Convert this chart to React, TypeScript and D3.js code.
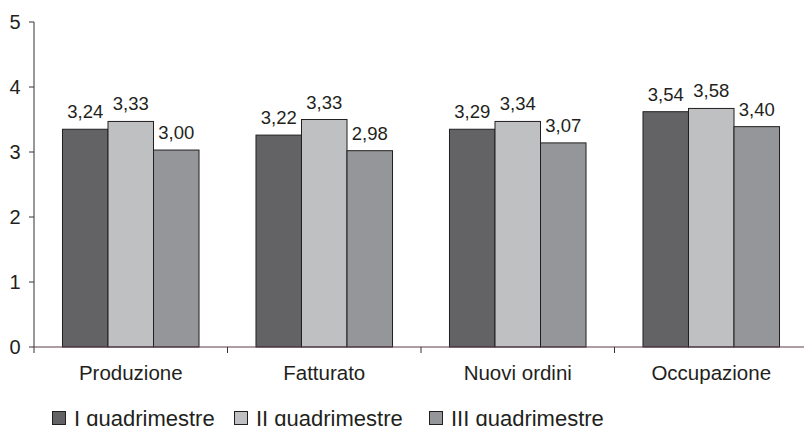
import * as d3 from "d3";

const categories = ["Produzione", "Fatturato", "Nuovi ordini", "Occupazione"];
const series = ["I quadrimestre", "II quadrimestre", "III quadrimestre"];
// bar heights as drawn in the picture
const q1 = [3.35, 3.26, 3.35, 3.62];
const q2 = [3.47, 3.5, 3.47, 3.67];
const q3 = [3.03, 3.02, 3.14, 3.39];
// printed value labels
const q1Labels = ["3,24", "3,22", "3,29", "3,54"];
const q2Labels = ["3,33", "3,33", "3,34", "3,58"];
const q3Labels = ["3,00", "2,98", "3,07", "3,40"];
const yTicks = [0, 1, 2, 3, 4, 5];

const colors = ["#636365", "#bfc0c2", "#959699"];
const font = "'Liberation Sans', Arial, sans-serif";
const ink = "#231f20";

export default function App() {
  const width = 804;
  const height = 426;
  const left = 34;
  const right = 808;
  const y0 = 347;

  const x = d3.scaleBand<string>().domain(categories).range([left, right]).paddingInner(0).paddingOuter(0);
  const xs = d3.scaleBand<string>().domain(series).range([0, x.bandwidth()]).paddingInner(0).paddingOuter(0.626);
  const y = d3.scaleLinear().domain([0, 5]).range([y0, 22]);

  const values = [q1, q2, q3];
  const labels = [q1Labels, q2Labels, q3Labels];
  const legendX = [52, 234, 429];

  return (
    <svg width={width} height={height} style={{ position: "absolute", left: 0, top: 0 }} fontFamily={font}>
      <rect width={width} height={height} fill="#fff" />

      {/* y axis */}
      <line x1={left} x2={left} y1={y(5)} y2={y0 + 6} stroke="#333" />
      {yTicks.map(t => (
        <g key={t}>
          <line x1={left - 5} x2={left} y1={y(t)} y2={y(t)} stroke="#333" />
          <text x={20.5} y={y(t)} dy="0.36em" textAnchor="end" fontSize={20} fill={ink}>{t}</text>
        </g>
      ))}

      {/* bars */}
      {categories.map((c, i) => (
        <g key={c} transform={`translate(${x(c)},0)`}>
          {series.map((s, j) => {
            const bx = xs(s) ?? 0;
            const v = values[j][i];
            return (
              <g key={s}>
                <rect x={bx} y={y(v)} width={xs.bandwidth()} height={y0 - y(v)} fill={colors[j]} stroke={ink} strokeWidth={1} />
                <text x={bx + xs.bandwidth() / 2} y={y(v) - 11} textAnchor="middle" fontSize={18.5} fill={ink}>{labels[j][i]}</text>
              </g>
            );
          })}
          <text x={x.bandwidth() / 2} y={379.5} textAnchor="middle" fontSize={20.5} fill={ink}>{c}</text>
        </g>
      ))}

      {/* x axis */}
      <line x1={left} x2={right} y1={y0} y2={y0} stroke="#5e3c4c" strokeWidth={1.2} />
      {categories.slice(1).map(c => (
        <line key={c} x1={x(c)} x2={x(c)} y1={y0} y2={y0 + 6} stroke="#333" />
      ))}

      {/* legend */}
      {series.map((s, j) => (
        <g key={s} transform={`translate(${legendX[j]},0)`}>
          <rect x={0.5} y={411.5} width={13} height={13} fill={colors[j]} stroke={ink} />
          <text x={22} y={425.5} fontSize={22} fill={ink}>{s}</text>
        </g>
      ))}
    </svg>
  );
}
